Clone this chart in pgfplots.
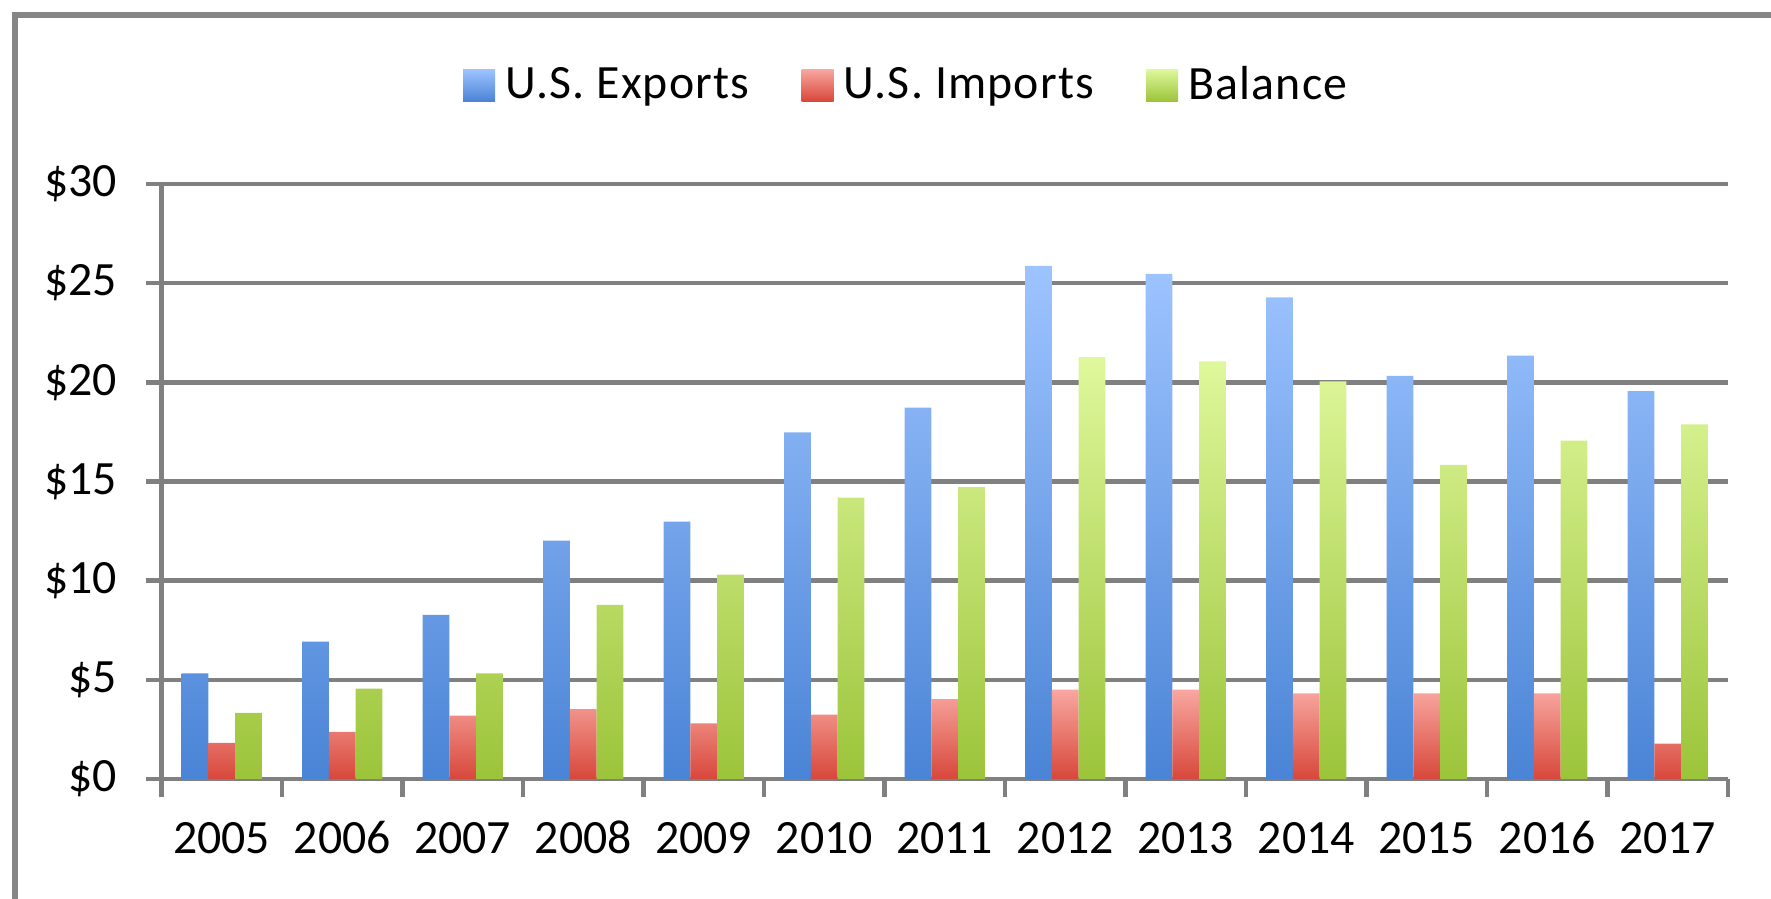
\documentclass[border=0pt]{standalone}
\usepackage{pgfplots}
\usepackage{pgfplotstable}
\pgfplotsset{compat=1.18}
\usepackage{fontspec}
\setmainfont{Carlito}
\newfontfamily\legendfont{Carlito}[LetterSpace=2.5]
\definecolor{gridgray}{HTML}{808080}
\definecolor{framegray}{HTML}{868686}
\definecolor{bluetop}{HTML}{9EC4FF}
\definecolor{bluebot}{HTML}{4A84D6}
\definecolor{redtop}{HTML}{F8A7A0}
\definecolor{redbot}{HTML}{D8473B}
\definecolor{greentop}{HTML}{DFF89C}
\definecolor{greenbot}{HTML}{9CC43A}
\pgfplotsset{sqlegend/.style={legend image code/.code={\path[##1] (0cm,-0.16cm) rectangle (0.32cm,0.16cm);}}}

\pgfplotstableread{
x exp imp bal
0 5.33 1.82 3.33
1 6.92 2.37 4.55
2 8.27 3.20 5.33
3 12.02 3.52 8.78
4 12.97 2.80 10.30
5 17.48 3.25 14.18
6 18.72 4.02 14.72
7 25.87 4.50 21.27
8 25.47 4.50 21.06
9 24.28 4.32 20.05
10 20.32 4.32 15.84
11 21.34 4.32 17.06
12 19.56 1.78 17.88
}\datatable

\begin{document}
\begin{tikzpicture}[x=1cm,y=1cm]
\path[use as bounding box] (0,0) rectangle (17.71,8.99);
\begin{axis}[
  at={(1.615cm,1.20cm)}, anchor=south west,
  scale only axis, width=15.665cm, height=5.95cm,
  xmin=-0.5, xmax=12.5, ymin=0, ymax=30,
  ybar=0pt, bar width=0.222,
  axis x line*=bottom, axis y line*=left,
  axis line style={gridgray, line width=1.3pt},
  tick align=outside,
  xtick={0,1,2,3,4,5,6,7,8,9,10,11,12},
  xticklabels={2005,2006,2007,2008,2009,2010,2011,2012,2013,2014,2015,2016,2017},
  minor xtick={-0.5,0.5,1.5,2.5,3.5,4.5,5.5,6.5,7.5,8.5,9.5,10.5,11.5,12.5},
  major x tick style={draw=none},
  minor x tick style={gridgray, line width=1.3pt},
  minor tick length=0.18cm,
  major tick length=0.15cm,
  ytick={0,5,10,15,20,25,30},
  major y tick style={gridgray, line width=1.3pt},
  yticklabel={\$\pgfmathprintnumber{\tick}},
  /pgf/number format/assume math mode=true,
  ymajorgrids, major grid style={gridgray, line width=1.3pt},
  ticklabel style={font=\fontsize{13.6}{16}\selectfont},
  xticklabel style={anchor=base, yshift=-0.595cm},
  yticklabel style={anchor=east, xshift=-0.17cm},
  legend style={at={(axis description cs:0.477,1.166)}, anchor=center, draw=none, fill=none,
    legend columns=3, font=\legendfont\fontsize{13.6}{16}\selectfont,
    /tikz/every odd column/.append style={column sep=0.03cm},
    /tikz/every even column/.append style={column sep=0.45cm}},
]
\addplot[draw=none, top color=bluetop, bottom color=bluebot, sqlegend] table[x=x,y=exp]{\datatable};
\addplot[draw=none, top color=redtop, bottom color=redbot, sqlegend] table[x=x,y=imp]{\datatable};
\addplot[draw=none, top color=greentop, bottom color=greenbot, sqlegend] table[x=x,y=bal]{\datatable};
\legend{U.S. Exports, U.S. Imports, Balance}
\end{axis}
\draw[framegray, line width=1.6pt] (0.15,-1) -- (0.15,8.84) -- (19,8.84);
\end{tikzpicture}
\end{document}
